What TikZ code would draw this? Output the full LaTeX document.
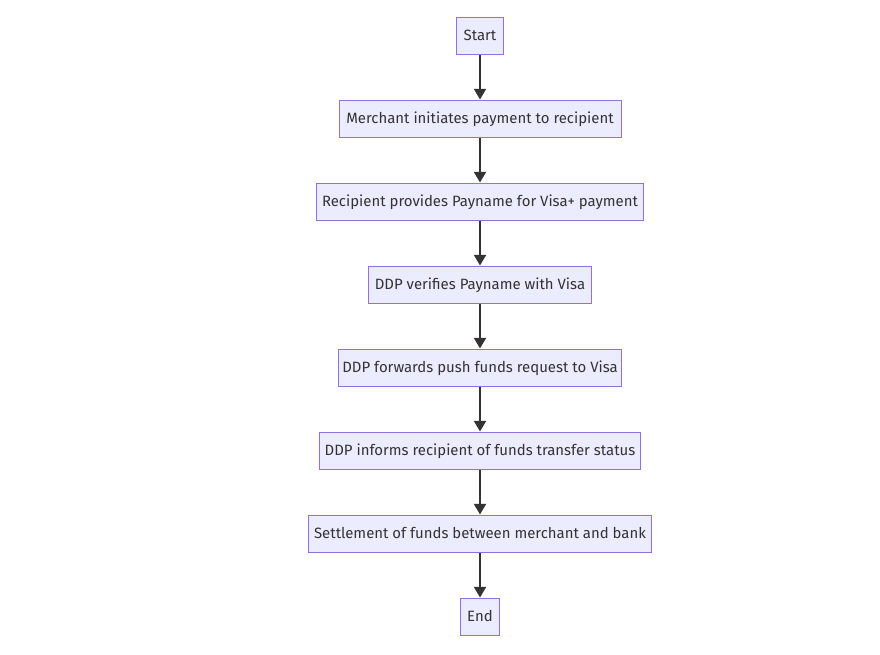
\documentclass[tikz,border=0pt]{standalone}
\usepackage{fontspec}
\setmainfont{Fira Sans}
\usetikzlibrary{arrows.meta}
\definecolor{boxfill}{HTML}{ECECFF}
\definecolor{boxline}{HTML}{9370DB}
\definecolor{arrowc}{HTML}{333333}
\definecolor{txt}{HTML}{333333}
\begin{document}
\begin{tikzpicture}[x=0.75pt,y=-0.75pt,
  flowbox/.style={draw=boxline,fill=boxfill,line width=0.75pt,minimum height=27.75pt,inner sep=0pt,text height=7.9pt,text depth=0pt,text=txt,font=\fontsize{11.2pt}{13pt}\selectfont},
  flowarrow/.style={draw=arrowc,line width=1.5pt,-{Triangle[width=9pt,length=8pt]}}]
\useasboundingbox (0,0) rectangle (880,654);
\node[flowbox,minimum width=35.25pt] (start) at (480,35.5) {Start};
\node[flowbox,minimum width=211.5pt] (merchant) at (480,118.5) {Merchant initiates payment to recipient};
\node[flowbox,minimum width=245.25pt] (recipient) at (480,201.5) {Recipient provides Payname for Visa+ payment};
\node[flowbox,minimum width=167.25pt] (verify) at (480,284.5) {DDP verifies Payname with Visa};
\node[flowbox,minimum width=212.25pt] (forward) at (480,367.5) {DDP forwards push funds request to Visa};
\node[flowbox,minimum width=240.75pt] (inform) at (480,450.5) {DDP informs recipient of funds transfer status};
\node[flowbox,minimum width=257.25pt] (settle) at (480,533.5) {Settlement of funds between merchant and bank};
\node[flowbox,minimum width=29.25pt] (end) at (480,616.5) {End};
\draw[flowarrow] (start) -- (merchant);
\draw[flowarrow] (merchant) -- (recipient);
\draw[flowarrow] (recipient) -- (verify);
\draw[flowarrow] (verify) -- (forward);
\draw[flowarrow] (forward) -- (inform);
\draw[flowarrow] (inform) -- (settle);
\draw[flowarrow] (settle) -- (end);
\end{tikzpicture}
\end{document}
